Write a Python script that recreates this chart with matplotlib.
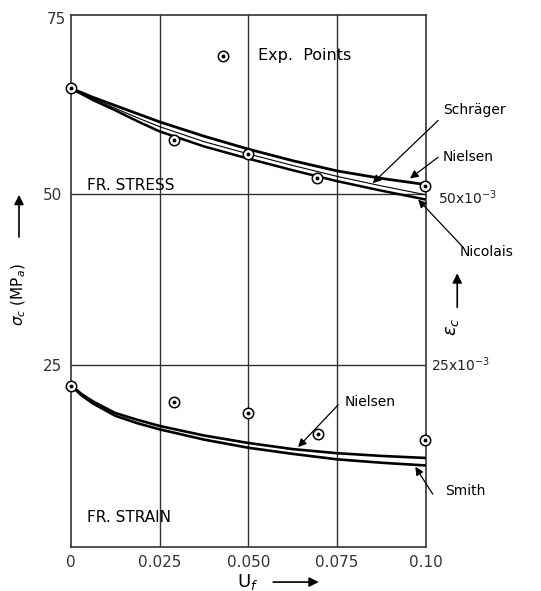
import matplotlib
matplotlib.use('Agg')
import matplotlib.pyplot as plt

# stress curves (MPa) vs Uf
x_stress = [0, 0.003, 0.00625, 0.0125, 0.01875, 0.025, 0.0375, 0.05, 0.0625, 0.075, 0.0875, 0.1]
nielsen_stress = [65.5, 64.9, 64.2, 63.0, 61.8, 60.6, 58.5, 56.6, 54.9, 53.4, 52.3, 51.4]
schrager_stress = [65.5, 64.8, 64.0, 62.6, 61.2, 59.9, 57.7, 55.9, 54.2, 52.6, 51.2, 49.9]
nicolais_stress = [65.5, 64.7, 63.8, 62.3, 60.7, 59.2, 57.0, 55.2, 53.5, 51.9, 50.5, 49.2]

# strain curves (x10^-3) vs Uf
x_strain = [0, 0.003, 0.00625, 0.0125, 0.01875, 0.025, 0.0375, 0.05, 0.0625, 0.075, 0.0875, 0.1]
nielsen_strain = [22.0, 20.7, 19.6, 17.9, 16.9, 16.0, 14.6, 13.5, 12.6, 12.0, 11.6, 11.3]
smith_strain = [22.0, 20.5, 19.3, 17.5, 16.4, 15.5, 14.0, 12.8, 11.9, 11.1, 10.6, 10.2]

# experimental points
exp_x_stress = [0, 0.029, 0.0498, 0.0694, 0.0997]
exp_stress = [65.5, 57.9, 55.9, 52.3, 51.2]
exp_x_strain = [0, 0.029, 0.0498, 0.0697, 0.0997]
exp_strain = [21.9, 19.5, 17.9, 14.8, 13.9]

xticks = [0, 0.025, 0.05, 0.075, 0.1]
xtick_labels = ['0', '0.025', '0.050', '0.075', '0.10']
yticks = [25, 50]
ytick_labels = ['25', '50']

fig = plt.figure(figsize=(5.41, 5.91), dpi=100)
ax = fig.add_axes([0.1307, 0.0751, 0.6567, 0.8987])
ax.set_xlim(0, 0.1)
ax.set_ylim(-1.7, 76.2)

gc = '#333333'
for v in [0.025, 0.05, 0.075]:
    ax.axvline(v, color=gc, lw=1.0, zorder=1)
for v in [25, 50]:
    ax.axhline(v, color=gc, lw=1.0, zorder=1)
for s in ax.spines.values():
    s.set_color(gc)
    s.set_linewidth(1.2)

ax.set_xticks(xticks)
ax.set_xticklabels(xtick_labels)
ax.set_yticks(yticks)
ax.set_yticklabels(ytick_labels)
ax.tick_params(length=0, labelsize=11, colors='#333333', pad=6)
ax.text(-0.0012, 75.6, '75', fontsize=11, color='#333333', ha='right', va='center')

# curves
ax.plot(x_stress, nielsen_stress, color='k', lw=2.0, zorder=3)
ax.plot(x_stress, schrager_stress, color='k', lw=0.8, zorder=3)
ax.plot(x_stress, nicolais_stress, color='k', lw=1.8, zorder=3)
ax.plot(x_strain, nielsen_strain, color='k', lw=1.9, zorder=3)
ax.plot(x_strain, smith_strain, color='k', lw=1.9, zorder=3)

# exp points: circle with centre dot
for xs, ys in [(exp_x_stress, exp_stress), (exp_x_strain, exp_strain)]:
    ax.plot(xs, ys, 'o', ms=7.5, mfc='white', mec='k', mew=1.1, zorder=5, clip_on=False)
    ax.plot(xs, ys, 'o', ms=1.8, color='k', zorder=6, clip_on=False)

ax.plot([0.043], [70.3], 'o', ms=7.5, mfc='white', mec='k', mew=1.1, zorder=5)
ax.plot([0.043], [70.3], 'o', ms=1.8, color='k', zorder=6)
ax.text(0.0527, 70.3, 'Exp.  Points', fontsize=11.5, va='center', ha='left')

ax.text(0.0045, 51.3, 'FR. STRESS', fontsize=11, va='center', ha='left')
ax.text(0.0045, 2.6, 'FR. STRAIN', fontsize=11, va='center', ha='left')

arr = dict(arrowstyle='-|>', color='k', lw=0.9, mutation_scale=12, shrinkA=0, shrinkB=0)

ax.text(0.1048, 62.3, 'Schräger', fontsize=10, va='center', ha='left')
ax.annotate('', xy=(0.085, 51.6), xytext=(0.1034, 60.8), arrowprops=arr, annotation_clip=False)
ax.text(0.1048, 55.4, 'Nielsen', fontsize=10, va='center', ha='left')
ax.annotate('', xy=(0.0955, 52.3), xytext=(0.1034, 55.4), arrowprops=arr, annotation_clip=False)
ax.text(0.1095, 41.5, 'Nicolais', fontsize=10, va='center', ha='left')
ax.annotate('', xy=(0.0978, 49.2), xytext=(0.1101, 42.4), arrowprops=arr, annotation_clip=False)

ax.text(0.0772, 19.5, 'Nielsen', fontsize=10, va='center', ha='left')
ax.annotate('', xy=(0.064, 12.9), xytext=(0.0753, 19.1), arrowprops=arr, annotation_clip=False)
ax.text(0.1053, 6.4, 'Smith', fontsize=10, va='center', ha='left')
ax.annotate('', xy=(0.097, 10.0), xytext=(0.1019, 6.0), arrowprops=arr, annotation_clip=False)

# right-hand strain scale
ax.text(0.1035, 49.5, r'50x10$^{-3}$', fontsize=10, va='center', ha='left', color='#222222')
ax.text(0.1015, 25.0, r'25x10$^{-3}$', fontsize=10, va='center', ha='left', color='#222222')
ax.annotate('', xy=(0.1088, 38.8), xytext=(0.1088, 33.0),
            arrowprops=dict(arrowstyle='-|>', color='k', lw=1.2, mutation_scale=14), annotation_clip=False)
ax.text(0.1073, 30.6, r'$\varepsilon_c$', fontsize=13, rotation=90, va='center', ha='center')

# left axis label
ax.annotate('', xy=(-0.01455, 50.3), xytext=(-0.01455, 43.3),
            arrowprops=dict(arrowstyle='-|>', color='k', lw=1.2, mutation_scale=14), annotation_clip=False)
ax.text(-0.01455, 35.2, r'$\sigma_c$ (MP$_a$)', fontsize=11, rotation=90, va='center', ha='center')

# bottom label
ax.text(0.0497, -6.9, r'U$_f$', fontsize=13, va='center', ha='center', clip_on=False)
ax.annotate('', xy=(0.0706, -6.9), xytext=(0.0562, -6.9),
            arrowprops=dict(arrowstyle='-|>', color='k', lw=1.2, mutation_scale=14), annotation_clip=False)

fig.savefig('out.png', dpi=100)
